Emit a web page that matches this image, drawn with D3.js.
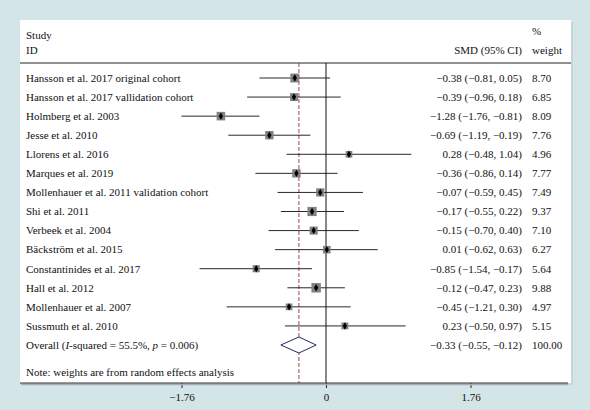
<!DOCTYPE html>
<html><head><meta charset="utf-8">
<script src="https://cdn.jsdelivr.net/npm/d3@7"></script>
<style>body{margin:0;background:#d4e5e8;}svg{display:block;}</style>
</head><body><svg id="c" width="590" height="410"></svg>
<script>
const studies = ["Hansson et al. 2017 original cohort","Hansson et al. 2017 vallidation cohort","Holmberg et al. 2003","Jesse et al. 2010","Llorens et al. 2016","Marques et al. 2019","Mollenhauer et al. 2011 validation cohort","Shi et al. 2011","Verbeek et al. 2004","Bäckström et al. 2015","Constantinides et al. 2017","Hall et al. 2012","Mollenhauer et al. 2007","Sussmuth et al. 2010"];
const smd = [-0.38,-0.39,-1.28,-0.69,0.28,-0.36,-0.07,-0.17,-0.15,0.01,-0.85,-0.12,-0.45,0.23];
const lower = [-0.81,-0.96,-1.76,-1.19,-0.48,-0.86,-0.59,-0.55,-0.70,-0.62,-1.54,-0.47,-1.21,-0.50];
const upper = [0.05,0.18,-0.81,-0.19,1.04,0.14,0.45,0.22,0.40,0.63,-0.17,0.23,0.30,0.97];
const weights = [8.70,6.85,8.09,7.76,4.96,7.77,7.49,9.37,7.10,6.27,5.64,9.88,4.97,5.15];
const overall = {smd:-0.33, lower:-0.55, upper:-0.12, weight:100.00};
const tickValues = [-1.76, 0, 1.76];

const svg = d3.select("#c");
const font = "'Liberation Serif', 'DejaVu Serif', serif";
const fs = 11;
const fmt = v => (v<0?"\u2212":"") + Math.abs(v).toFixed(2);
const ciText = (s,l,u) => `${fmt(s)} (${fmt(l)}, ${fmt(u)})`;

const x = d3.scaleLinear().domain([-1.76, 1.76]).range([181.5, 470.5]);
const y = d3.scalePoint().domain(d3.range(15)).range([78, 345]);

// panel
svg.append("rect").attr("x",22).attr("y",22).attr("width",551).attr("height",363).attr("fill","#b9cbce").attr("opacity",0.6);
svg.append("rect").attr("x",20).attr("y",20).attr("width",551).attr("height",363).attr("fill","#fff");

const g = svg.append("g").attr("font-family",font).attr("font-size",fs).attr("fill","#111");

// headers
g.append("text").attr("x",26).attr("y",39).text("Study");
g.append("text").attr("x",26).attr("y",54).text("ID");
g.append("text").attr("x",522).attr("y",54).attr("text-anchor","end").text("SMD (95% CI)");
g.append("text").attr("x",532).attr("y",35).text("%");
g.append("text").attr("x",532).attr("y",54).text("weight");
svg.append("line").attr("x1",20).attr("x2",571).attr("y1",63).attr("y2",63).attr("stroke","#222").attr("stroke-width",1);

// zero line
svg.append("line").attr("x1",x(0)).attr("x2",x(0)).attr("y1",63).attr("y2",383).attr("stroke","#111").attr("stroke-width",1);
// overall dashed line
svg.append("line").attr("x1",x(overall.smd)).attr("x2",x(overall.smd)).attr("y1",63).attr("y2",383)
  .attr("stroke","#9b4a4a").attr("stroke-width",1).attr("stroke-dasharray","4,2");

// studies
studies.forEach((s,i)=>{
  const yy = y(i);
  g.append("text").attr("x",26).attr("y",yy+3.8).text(s);
  g.append("text").attr("x",522).attr("y",yy+3.8).attr("text-anchor","end").text(ciText(smd[i],lower[i],upper[i]));
  g.append("text").attr("x",532).attr("y",yy+3.8).text(weights[i].toFixed(2));
  svg.append("line").attr("x1",x(lower[i])).attr("x2",x(upper[i])).attr("y1",yy).attr("y2",yy).attr("stroke","#111").attr("stroke-width",0.9);
  const side = 3.0*Math.sqrt(weights[i]);
  svg.append("rect").attr("x",x(smd[i])-side/2).attr("y",yy-side/2).attr("width",side).attr("height",side).attr("fill","#808080");
  svg.append("path").attr("d",d3.symbol(d3.symbolDiamond,16)()).attr("transform",`translate(${x(smd[i])},${yy})`).attr("fill","#000");
});

// overall
const yo = y(14);
g.append("text").attr("x",26).attr("y",yo+3.8).html('Overall (<tspan font-style="italic">I</tspan>-squared = 55.5%, <tspan font-style="italic">p</tspan> = 0.006)');
g.append("text").attr("x",522).attr("y",yo+3.8).attr("text-anchor","end").text(ciText(overall.smd,overall.lower,overall.upper));
g.append("text").attr("x",532).attr("y",yo+3.8).text(overall.weight.toFixed(2));
svg.append("path").attr("d",`M${x(overall.lower)},${yo} L${x(overall.smd)},${yo-8} L${x(overall.upper)},${yo} L${x(overall.smd)},${yo+8} Z`)
  .attr("fill","#fff").attr("stroke","#1c2a6b").attr("stroke-width",1);

g.append("text").attr("x",26).attr("y",376).text("Note: weights are from random effects analysis");

// axis
const ax = svg.append("g").attr("transform","translate(0,383)");
ax.call(d3.axisBottom(x).tickValues(tickValues).tickSize(5).tickFormat(d=> d===0?"0":fmt(d)));
ax.select(".domain").remove();
ax.selectAll("text").attr("font-family",font).attr("font-size",fs).attr("fill","#111").attr("dy","0.9em");
ax.selectAll("line").attr("stroke","#222");
svg.append("line").attr("x1",21).attr("x2",568).attr("y1",384.5).attr("y2",384.5).attr("stroke","#aab").attr("stroke-width",1.5);
svg.append("line").attr("x1",20).attr("x2",568).attr("y1",383).attr("y2",383).attr("stroke","#333").attr("stroke-width",1.2);
</script></body></html>
